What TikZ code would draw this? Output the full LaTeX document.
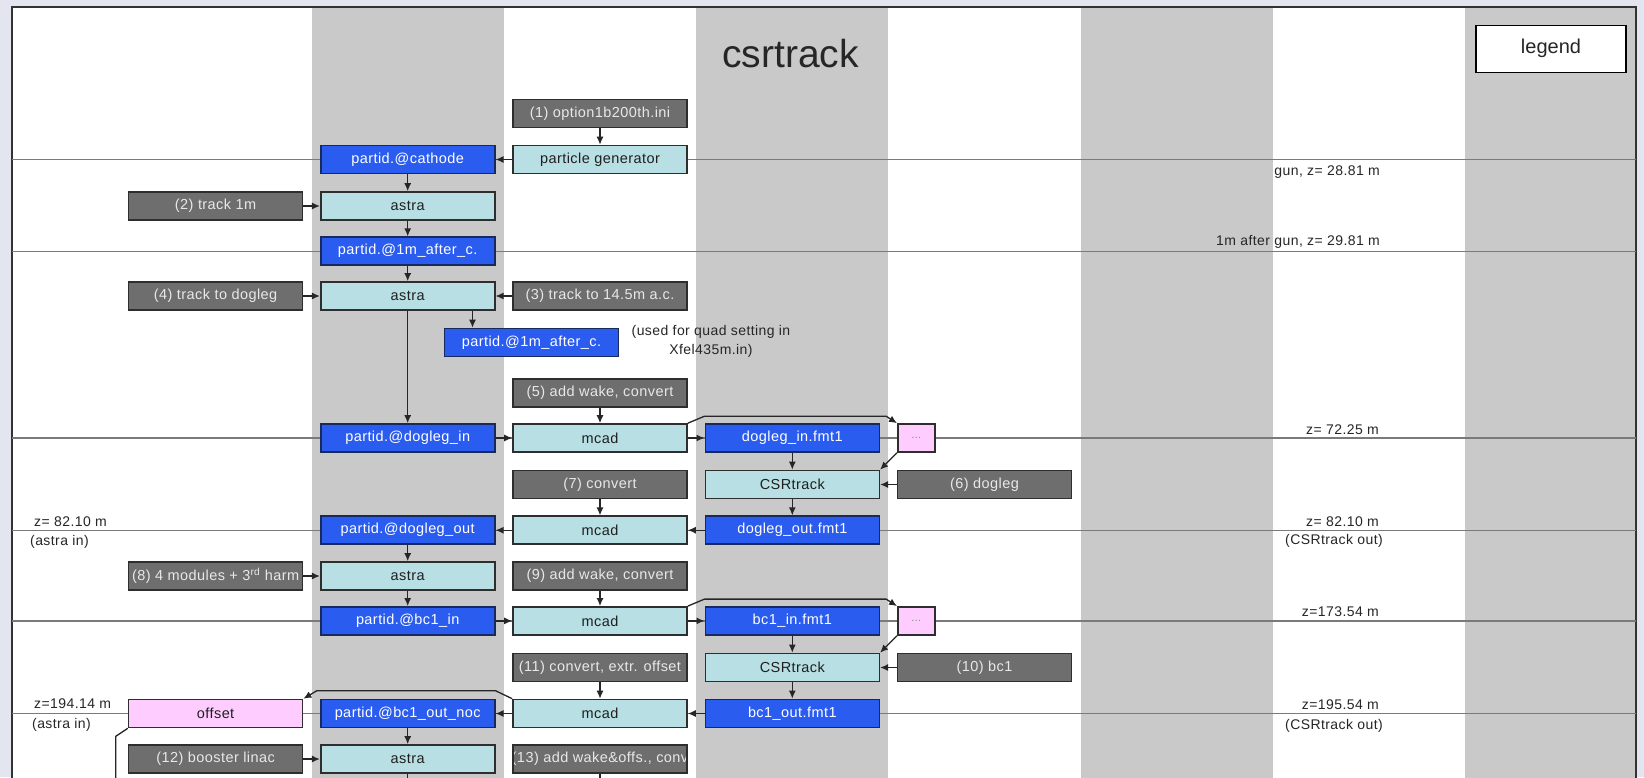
\documentclass[tikz,border=0pt]{standalone}
\usepackage{fontspec}
\setmainfont{Liberation Sans}
\newfontfamily\boxfont{Liberation Sans}[LetterSpace=3]
\usetikzlibrary{arrows.meta,calc}

\definecolor{outerbg}{HTML}{E3E6EE}
\definecolor{stripe}{HTML}{C9C9C9}
\definecolor{rowrule}{HTML}{7A7A7A}
\definecolor{filefill}{HTML}{2B5CF0}
\definecolor{filedraw}{HTML}{18295E}
\definecolor{toolfill}{HTML}{B8E0E4}
\definecolor{inputfill}{HTML}{6E6E6E}
\definecolor{inputtext}{HTML}{E8E8E8}
\definecolor{notefill}{HTML}{FFCCFF}
\definecolor{boxdraw}{HTML}{2E2E2E}

\begin{document}
\begin{tikzpicture}[x=1pt,y=-1pt,
  font=\boxfont\fontsize{14.5}{19}\selectfont,
  box/.style={draw=boxdraw, line width=1.6pt, minimum width=174pt,
    minimum height=28pt, inner sep=0pt},
  filebox/.style={box, fill=filefill, draw=filedraw, text=white},
  toolbox/.style={box, fill=toolfill, text=black!88},
  inputbox/.style={box, fill=inputfill, text=inputtext},
  notebox/.style={box, fill=notefill, text=black!88},
  dotsbox/.style={notebox, minimum width=37pt, text=black!45,
    font=\boxfont\fontsize{11}{13}\selectfont},
  clipped/.style={path picture={\node[text=inputtext] at (path picture bounding box.center) {#1};}},
  flow/.style={-{Latex[length=8pt,width=7pt]}, line width=1.3pt, black!85},
  plain/.style={line width=1.3pt, black!85},
  rowrule/.style={draw=rowrule, line width=1.2pt},
  zlabel/.style={font=\boxfont\fontsize{14}{19}\selectfont, inner sep=0pt, text=black!85},
]
\clip (0,0) rectangle (1644,777);
\useasboundingbox (0,0) rectangle (1644,777);

% page and column stripes
\fill[outerbg] (0,0) rectangle (1644,777);
\fill[white] (12,7) rectangle (1636,800);
\fill[stripe] (311.5,7) rectangle (503.8,800);
\fill[stripe] (696.1,7) rectangle (888.4,800);
\fill[stripe] (1080.7,7) rectangle (1273,800);
\fill[stripe] (1465.3,7) rectangle (1636,800);
\draw[black!80, line width=1.5pt] (12,800) -- (12,7) -- (1636,7) -- (1636,800);

% z-position rules
\foreach \yy in {159.5,251.2,438,530.2,620.9,713.5}
  \draw[rowrule] (12,\yy) -- (1636,\yy);

% title and legend
\node[font=\fontsize{39}{44}\selectfont, text=black!85, anchor=base, inner sep=0pt] (title) at (790.5,67) {csrtrack};
\node[draw=black, line width=1.4pt, fill=white, minimum width=150pt, minimum height=47pt,
      font=\fontsize{20}{24}\selectfont, text=black!85] (legend) at (1551,48.7) {legend};

% z labels, right side
\node[zlabel, anchor=east] (zgun) at (1380,171.7) {gun, z= 28.81 m};
\node[zlabel, anchor=east] (zone) at (1380,241.7) {1m after gun, z= 29.81 m};
\node[zlabel, anchor=east] (zdla) at (1379,430) {z= 72.25 m};
\node[zlabel, anchor=east] (zdlb) at (1379,521.7) {z= 82.10 m};
\node[zlabel, anchor=east] (coa) at (1383,540.7) {(CSRtrack out)};
\node[zlabel, anchor=east] (zbca) at (1379,611.7) {z=173.54 m};
\node[zlabel, anchor=east] (zbcb) at (1379,704.3) {z=195.54 m};
\node[zlabel, anchor=east] (cob) at (1383,725.7) {(CSRtrack out)};
% z labels, left side
\node[zlabel, anchor=west] (lza) at (34,522) {z= 82.10 m};
\node[zlabel, anchor=west] (lai) at (30,541.7) {(astra in)};
\node[zlabel, anchor=west] (lzb) at (34,704) {z=194.14 m};
\node[zlabel, anchor=west] (lbi) at (32,725) {(astra in)};
\node[zlabel, align=center] (quadnote) at (711,341) {(used for quad setting in\\Xfel435m.in)};

% boxes
\node[inputbox] (opt) at (600,113.3) {(1) option1b200th.ini};
\node[filebox] (cath) at (407.7,159.5) {partid.@cathode};
\node[toolbox] (pgen) at (600,159.5) {particle generator};
\node[inputbox] (inb) at (215.6,206) {(2) track 1m};
\node[toolbox] (astraa) at (407.7,206) {astra};
\node[filebox] (pone) at (407.7,251.2) {partid.@1m\_after\_c.};
\node[inputbox] (ind) at (215.6,296) {(4) track to dogleg};
\node[toolbox] (astrab) at (407.7,296) {astra};
\node[inputbox] (inc) at (600,296) {(3) track to 14.5m a.c.};
\node[filebox] (pquad) at (531.5,342.5) {partid.@1m\_after\_c.};
\node[inputbox] (ine) at (600,393) {(5) add wake, convert};
\node[filebox] (dlin) at (407.7,438) {partid.@dogleg\_in};
\node[toolbox] (mcada) at (600,438) {mcad};
\node[filebox] (fdlin) at (792.3,438) {dogleg\_in.fmt1};
\node[dotsbox] (dotsa) at (916.3,438) {...};
\node[inputbox] (ing) at (600,484.5) {(7) convert};
\node[toolbox] (csra) at (792.3,484.5) {CSRtrack};
\node[inputbox] (inf) at (984.5,484.5) {(6) dogleg};
\node[filebox] (dlout) at (407.7,530.2) {partid.@dogleg\_out};
\node[toolbox] (mcadb) at (600,530.2) {mcad};
\node[filebox] (fdlout) at (792.3,530.2) {dogleg\_out.fmt1};
\node[inputbox, clipped={(8) 4 modules + 3\textsuperscript{rd} harm}] (inh) at (215.6,576) {};
\node[toolbox] (astrac) at (407.7,576) {astra};
\node[inputbox] (ini) at (600,576) {(9) add wake, convert};
\node[filebox] (bcin) at (407.7,620.9) {partid.@bc1\_in};
\node[toolbox] (mcadc) at (600,620.9) {mcad};
\node[filebox] (fbcin) at (792.3,620.9) {bc1\_in.fmt1};
\node[dotsbox] (dotsb) at (916.3,620.9) {...};
\node[inputbox, clipped={(11) convert, extr. offset}] (ink) at (600,667.5) {};
\node[toolbox] (csrb) at (792.3,667.5) {CSRtrack};
\node[inputbox] (inj) at (984.5,667.5) {(10) bc1};
\node[notebox] (offset) at (215.6,713.5) {offset};
\node[filebox] (noc) at (407.7,713.5) {partid.@bc1\_out\_noc};
\node[toolbox] (mcadd) at (600,713.5) {mcad};
\node[filebox] (fbcout) at (792.3,713.5) {bc1\_out.fmt1};
\node[inputbox] (inl) at (215.6,759) {(12) booster linac};
\node[toolbox] (astrad) at (407.7,759) {astra};
\node[inputbox, clipped={(13) add wake\&offs., conv}] (inm) at (600,759) {};

% flow: gun to dogleg
\draw[flow] (opt) -- (pgen);
\draw[flow] (pgen) -- (cath);
\draw[flow] (cath) -- (astraa);
\draw[flow] (inb) -- (astraa);
\draw[flow] (astraa) -- (pone);
\draw[flow] (pone) -- (astrab);
\draw[flow] (ind) -- (astrab);
\draw[flow] (inc) -- (astrab);
\draw[flow] ($(astrab.south east)+(-23,0)$) coordinate (tap) -- (tap |- pquad.north);
\draw[flow] (astrab) -- (dlin);

% flow: dogleg
\draw[flow] (dlin) -- (mcada);
\draw[flow] (ine) -- (mcada);
\draw[flow] (mcada) -- (fdlin);
\draw[flow] (mcada.north east) -- ($(fdlin.north west)+(0,-7)$) -- ($(fdlin.north east)+(6,-7)$) -- (dotsa.north west);
\draw[flow] (dotsa.south west) -- (csra.north east);
\draw[flow] (fdlin) -- (csra);
\draw[flow] (inf) -- (csra);
\draw[flow] (csra) -- (fdlout);
\draw[flow] (fdlout) -- (mcadb);
\draw[flow] (ing) -- (mcadb);
\draw[flow] (mcadb) -- (dlout);

% flow: linac to bc1
\draw[flow] (dlout) -- (astrac);
\draw[flow] (inh) -- (astrac);
\draw[flow] (astrac) -- (bcin);
\draw[flow] (bcin) -- (mcadc);
\draw[flow] (ini) -- (mcadc);
\draw[flow] (mcadc) -- (fbcin);
\draw[flow] (mcadc.north east) -- ($(fbcin.north west)+(0,-7)$) -- ($(fbcin.north east)+(6,-7)$) -- (dotsb.north west);
\draw[flow] (dotsb.south west) -- (csrb.north east);
\draw[flow] (fbcin) -- (csrb);
\draw[flow] (inj) -- (csrb);
\draw[flow] (csrb) -- (fbcout);
\draw[flow] (fbcout) -- (mcadd);
\draw[flow] (ink) -- (mcadd);
\draw[flow] (mcadd) -- (noc);
\draw[flow] (mcadd.north west) -- ($(noc.north east)+(0,-8)$) -- ($(noc.north west)+(-3,-8)$) -- (offset.north east);

% flow: booster linac
\draw[flow] (noc) -- (astrad);
\draw[flow] (inl) -- (astrad);
\draw[plain] (offset.south west) -- ++(-12,8) -- ++(0,60);
\draw[plain] (astrad.south) -- ++(0,30);
\draw[plain] (inm.south) -- ++(0,30);
\end{tikzpicture}
\end{document}
